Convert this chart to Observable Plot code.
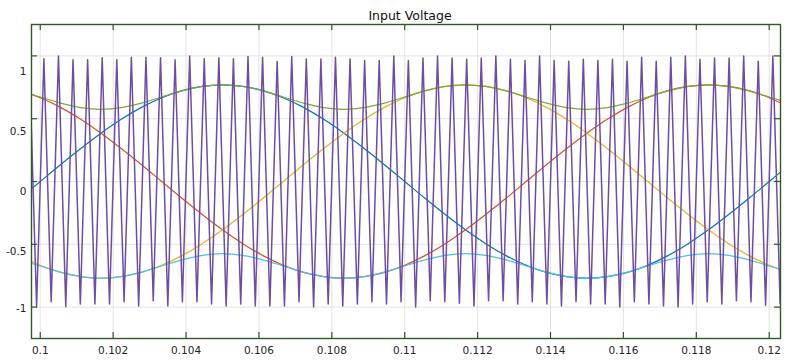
<!DOCTYPE html>
<html>
<head>
<meta charset="utf-8">
<script src="https://cdn.jsdelivr.net/npm/d3@7"></script>
<script src="https://cdn.jsdelivr.net/npm/@observablehq/plot@0.6"></script>
<style>
  html, body { margin: 0; padding: 0; background: #ffffff; }
  #chart svg { display: block; }
</style>
</head>
<body>
<div id="chart"></div>
<script>
// ---- Data ----
const title = "Input Voltage";

const xTicks = [0.1, 0.102, 0.104, 0.106, 0.108, 0.11, 0.112, 0.114, 0.116, 0.118, 0.12];
const xTickLabels = ["0.1", "0.102", "0.104", "0.106", "0.108", "0.11", "0.112", "0.114", "0.116", "0.118", "0.12"];
const yTicks = [1, 0.5, 0, -0.5, -1];
const yTickLabels = ["1", "0.5", "0", "-0.5", "-1"];

// sample times of the reference (modulating) signals
const refT = [0.099444, 0.1, 0.100556, 0.101111, 0.101667, 0.102222, 0.102778, 0.103333, 0.103889, 0.104444,
  0.105, 0.105556, 0.106111, 0.106667, 0.107222, 0.107778, 0.108333, 0.108889, 0.109444, 0.11,
  0.110556, 0.111111, 0.111667, 0.112222, 0.112778, 0.113333, 0.113889, 0.114444, 0.115, 0.115556,
  0.116111, 0.116667, 0.117222, 0.117778, 0.118333, 0.118889, 0.119444, 0.12, 0.120556];

const blueV = [-0.134, 0, 0.134, 0.263, 0.385, 0.495, 0.590, 0.667, 0.724, 0.758,
  0.770, 0.758, 0.724, 0.667, 0.590, 0.495, 0.385, 0.263, 0.134, 0,
  -0.134, -0.263, -0.385, -0.495, -0.590, -0.667, -0.724, -0.758, -0.770, -0.758,
  -0.724, -0.667, -0.590, -0.495, -0.385, -0.263, -0.134, 0, 0.134];

const redV = [0.724, 0.667, 0.590, 0.495, 0.385, 0.263, 0.134, 0, -0.134, -0.263,
  -0.385, -0.495, -0.590, -0.667, -0.724, -0.758, -0.770, -0.758, -0.724, -0.667,
  -0.590, -0.495, -0.385, -0.263, -0.134, 0, 0.134, 0.263, 0.385, 0.495,
  0.590, 0.667, 0.724, 0.758, 0.770, 0.758, 0.724, 0.667, 0.590];

const orangeV = [-0.590, -0.667, -0.724, -0.758, -0.770, -0.758, -0.724, -0.667, -0.590, -0.495,
  -0.385, -0.263, -0.134, 0, 0.134, 0.263, 0.385, 0.495, 0.590, 0.667,
  0.724, 0.758, 0.770, 0.758, 0.724, 0.667, 0.590, 0.495, 0.385, 0.263,
  0.134, 0, -0.134, -0.263, -0.385, -0.495, -0.590, -0.667, -0.724];

const greenV = [0.721, 0.673, 0.624, 0.588, 0.575, 0.588, 0.624, 0.673, 0.721, 0.757,
  0.770, 0.757, 0.721, 0.673, 0.624, 0.588, 0.575, 0.588, 0.624, 0.673,
  0.721, 0.757, 0.770, 0.757, 0.721, 0.673, 0.624, 0.588, 0.575, 0.588,
  0.624, 0.673, 0.721, 0.757, 0.770, 0.757, 0.721, 0.673, 0.624];

const cyanV = [-0.624, -0.673, -0.721, -0.757, -0.770, -0.757, -0.721, -0.673, -0.624, -0.588,
  -0.575, -0.588, -0.624, -0.673, -0.721, -0.757, -0.770, -0.757, -0.721, -0.673,
  -0.624, -0.588, -0.575, -0.588, -0.624, -0.673, -0.721, -0.757, -0.770, -0.757,
  -0.721, -0.673, -0.624, -0.588, -0.575, -0.588, -0.624, -0.673, -0.721];

// triangular carrier: peak and valley instants and levels
const peakT = [0.0997, 0.1001, 0.1005, 0.1009, 0.1013, 0.1017, 0.1021, 0.1025, 0.1029, 0.1033,
  0.1037, 0.1041, 0.1045, 0.1049, 0.1053, 0.1057, 0.1061, 0.1065, 0.1069, 0.1073,
  0.1077, 0.1081, 0.1085, 0.1089, 0.1093, 0.1097, 0.1101, 0.1105, 0.1109, 0.1113,
  0.1117, 0.1121, 0.1125, 0.1129, 0.1133, 0.1137, 0.1141, 0.1145, 0.1149, 0.1153,
  0.1157, 0.1161, 0.1165, 0.1169, 0.1173, 0.1177, 0.1181, 0.1185, 0.1189, 0.1193,
  0.1197, 0.1201, 0.1205];
const peakV = [0.980, 0.977, 1.0, 0.969, 0.969, 0.985, 0.969, 0.990, 0.990, 0.985,
  0.969, 1.0, 0.977, 0.985, 0.977, 0.995, 0.990, 0.955, 0.995, 0.975,
  0.975, 0.990, 0.975, 0.963, 0.963, 1.0, 0.963, 0.984, 1.0, 0.984,
  0.974, 0.984, 1.0, 0.974, 0.963, 1.0, 0.963, 0.958, 0.974, 0.963,
  0.974, 0.958, 0.990, 0.958, 0.990, 1.0, 0.974, 0.984, 0.984, 1.0,
  0.958, 1.0, 0.970];
const valleyT = [0.0999, 0.1003, 0.1007, 0.1011, 0.1015, 0.1019, 0.1023, 0.1027, 0.1031, 0.1035,
  0.1039, 0.1043, 0.1047, 0.1051, 0.1055, 0.1059, 0.1063, 0.1067, 0.1071, 0.1075,
  0.1079, 0.1083, 0.1087, 0.1091, 0.1095, 0.1099, 0.1103, 0.1107, 0.1111, 0.1115,
  0.1119, 0.1123, 0.1127, 0.1131, 0.1135, 0.1139, 0.1143, 0.1147, 0.1151, 0.1155,
  0.1159, 0.1163, 0.1167, 0.1171, 0.1175, 0.1179, 0.1183, 0.1187, 0.1191, 0.1195,
  0.1199, 0.1203];
const valleyV = [-0.997, -0.957, -0.997, -0.976, -0.976, -0.976, -0.957, -0.992, -0.949, -0.992,
  -0.957, -0.957, -0.976, -0.992, -0.976, -0.992, -0.992, -0.992, -0.957, -1.0,
  -0.976, -0.992, -0.976, -0.957, -0.976, -0.957, -1.0, -0.949, -0.957, -0.970,
  -0.992, -0.949, -0.949, -0.976, -0.957, -0.976, -0.992, -0.957, -0.976, -0.976,
  -1.0, -0.957, -0.976, -0.992, -1.0, -0.976, -0.957, -0.976, -0.949, -0.957,
  -0.986, -0.970];

// ---- Tables built from the arrays ----
const series = (name, vals) => refT.map((t, i) => ({t, v: vals[i], name}));
const carrier = peakT.map((t, i) => ({t, v: peakV[i]}))
  .concat(valleyT.map((t, i) => ({t, v: valleyV[i]})))
  .sort((a, b) => a.t - b.t);

const xLabel = new Map(xTicks.map((t, i) => [t, xTickLabels[i]]));
const yLabel = new Map(yTicks.map((t, i) => [t, yTickLabels[i]]));

const W = 788, H = 362, mL = 31, mR = 8, mT = 24, mB = 24;
const innerW = W - mL - mR, innerH = H - mT - mB;
const frameColor = "#2d5a27";
const labelShift = [16, 13, 10, 7.5, 1.5];

const refLine = (data, color) => Plot.line(data, {
  x: "t", y: "v", stroke: color, strokeWidth: 1.2, curve: "catmull-rom", clip: true
});

const chart = Plot.plot({
  width: W, height: H,
  marginLeft: mL, marginRight: mR, marginTop: mT, marginBottom: mB,
  style: {fontFamily: "'DejaVu Sans', sans-serif", fontSize: "10.5px", color: "#262626", background: "#ffffff"},
  x: {domain: [0.09976, 0.12031]},
  y: {domain: [-1.25, 1.25]},
  marks: [
    Plot.gridX(xTicks, {stroke: "#dcdcdc", strokeOpacity: 1, strokeWidth: 0.8}),
    Plot.gridY(yTicks, {stroke: "#dcdcdc", strokeOpacity: 1, strokeWidth: 0.8}),
    refLine(series("blue", blueV), "#0072BD"),
    refLine(series("red", redV), "#D95319"),
    refLine(series("orange", orangeV), "#EDB120"),
    refLine(series("green", greenV), "#77AC30"),
    refLine(series("cyan", cyanV), "#4DBEEE"),
    Plot.line(carrier, {x: "t", y: "v", stroke: "#6e4ea3", strokeWidth: 1.5, clip: true}),
    Plot.frame({stroke: frameColor, strokeWidth: 1.4}),
    // inward tick marks
    Plot.tickX(xTicks, {x: d => d, stroke: frameColor, strokeWidth: 1.2, insetBottom: innerH - 6}),
    Plot.tickX(xTicks, {x: d => d, stroke: frameColor, strokeWidth: 1.2, insetTop: innerH - 6}),
    Plot.tickY(yTicks, {y: d => d, stroke: frameColor, strokeWidth: 1.2, insetRight: innerW - 6}),
    Plot.tickY(yTicks, {y: d => d, stroke: frameColor, strokeWidth: 1.2, insetLeft: innerW - 6}),
    Plot.axisX(xTicks, {anchor: "bottom", tickSize: 0, tickPadding: 8, tickFormat: d => xLabel.get(d), label: null, fill: "#262626"}),
    ...yTicks.map((v, i) => Plot.axisY([v], {anchor: "left", tickSize: 0, tickPadding: 5, dy: labelShift[i], tickFormat: d => yLabel.get(d), label: null, fill: "#262626"})),
    Plot.text([title], {frameAnchor: "top", dy: -9, dx: 4, fontSize: 12.5, fill: "#111111", lineAnchor: "middle"})
  ]
});
document.getElementById("chart").appendChild(chart);
</script>
</body>
</html>
